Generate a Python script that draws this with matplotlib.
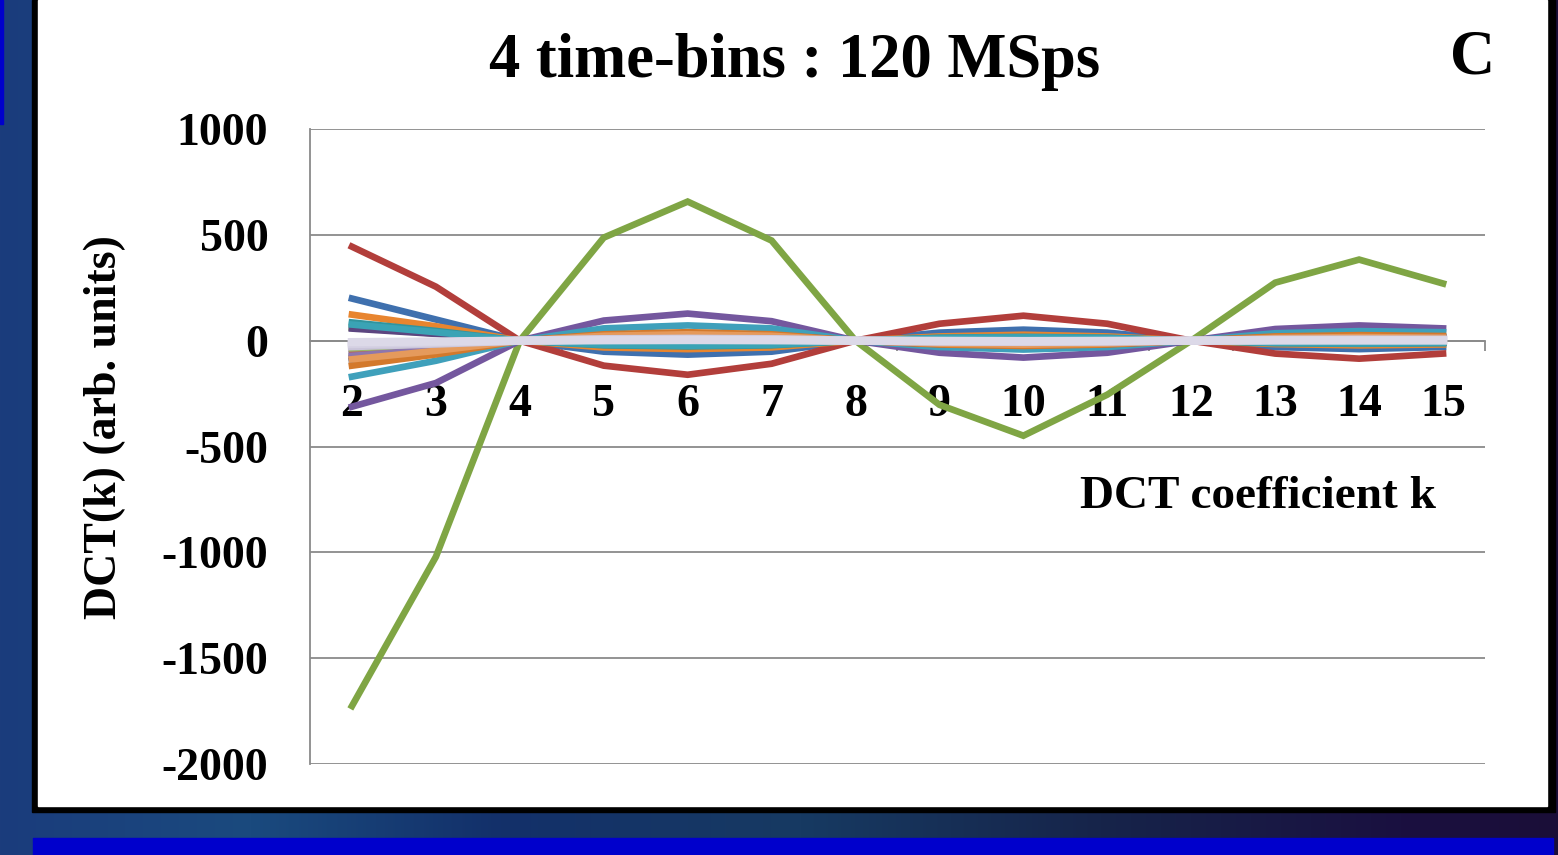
import numpy as np
import matplotlib
matplotlib.use('Agg')
import matplotlib.pyplot as plt
from matplotlib.patches import Rectangle
from matplotlib.colors import to_rgb

plt.rcParams['font.family'] = ['Liberation Serif', 'DejaVu Serif']
plt.rcParams['font.weight'] = 'bold'

# DCT coefficient index
k = [2, 3, 4, 5, 6, 7, 8, 9, 10, 11, 12, 13, 14, 15]

# series (k = 2..15)
blue     = [199, 100, 0, -52, -66, -52, 0, 38, 52, 38, 0, -30, -40, -30]
red      = [444, 255, 0, -118, -161, -109, 0, 80, 118, 80, 0, -61, -85, -61]
green    = [-1726, -1021, 0, 487, 657, 473, 0, -303, -449, -255, 0, 274, 383, 270]
purple   = [-312, -200, 0, 95, 128, 92, 0, -57, -80, -57, 0, 55, 72, 58]
teal     = [-170, -95, 0, 58, 72, 58, 0, -30, -42, -30, 0, 35, 45, 40]
orange   = [123, 68, 0, -32, -40, -32, 0, 20, 28, 20, 0, -16, -22, -18]
dkblue   = [-95, -52, 0, 26, 34, 26, 0, -16, -22, -16, 0, 15, 20, 16]
dkred    = [-80, -45, 0, 22, 28, 22, 0, -14, -18, -14, 0, 12, 16, 12]
dkgreen  = [61, 34, 0, -16, -20, -16, 0, 10, 14, 10, 0, -9, -12, -9]
dkpurple = [57, 32, 0, -15, -19, -15, 0, 10, 13, 10, 0, -8, -11, -8]
dkteal   = [86, 46, 0, -22, -27, -22, 0, 14, 18, 14, 0, -12, -15, -12]
dkorange = [-118, -65, 0, 30, 40, 30, 0, -18, -25, -18, 0, 20, 26, 22]
ltblue   = [-62, -34, 0, 16, 22, 16, 0, -10, -14, -10, 0, 9, 12, 10]
ltred    = [-48, -26, 0, 12, 16, 12, 0, -8, -10, -8, 0, 7, 9, 7]
ltgreen  = [-36, -20, 0, 9, 12, 9, 0, -6, -8, -6, 0, 5, 7, 5]
ltpurple = [-72, -40, 0, 19, 25, 19, 0, -12, -16, -12, 0, 11, 14, 12]
ltteal   = [76, 40, 0, -19, -24, -19, 0, 12, 16, 12, 0, -10, -13, -10]
ltorange = [-88, -48, 0, 23, 30, 23, 0, -14, -19, -14, 0, 13, 17, 14]
grey1    = [-26, -14, 0, 7, 9, 7, 0, -4, -6, -4, 0, 4, 5, 4]
grey2    = [-16, -9, 0, 5, 6, 5, 0, -3, -4, -3, 0, 3, 3, 3]
grey3    = [-7, -4, 0, 2, 3, 2, 0, -1, -2, -1, 0, 1, 1, 1]

series = [blue, red, green, purple, teal, orange,
          dkblue, dkred, dkgreen, dkpurple, dkteal, dkorange,
          ltblue, ltred, ltgreen, ltpurple, ltteal, ltorange,
          grey1, grey2, grey3]
colors = ['#3F70AE', '#B23E3B', '#7FA544', '#74579E', '#3FA0BB', '#E8852F',
          '#3A5E8C', '#8C3A38', '#6C8A3A', '#5C4580', '#31949E', '#D3792C',
          '#6B8FC0', '#B8605E', '#98B46A', '#8D76AD', '#3AA3B5', '#E59A5C',
          '#CAC5DA', '#D4D0E2', '#DCD9E8']
widths = [4.8] * 18 + [6, 6, 6]

W, H = 1558, 855
fig = plt.figure(figsize=(W / 100, H / 100), dpi=100)

# slide background
bg = fig.add_axes([0, 0, 1, 1], zorder=-10)
stops = [(0, '#1B3C7C'), (250, '#1A4A7E'), (500, '#13306A'), (800, '#173A62'),
         (1100, '#16244A'), (1400, '#1A1040'), (1558, '#1A0E38')]
xs = np.arange(W)
grad = np.zeros((1, W, 3))
for c in range(3):
    grad[0, :, c] = np.interp(xs, [s[0] for s in stops], [to_rgb(s[1])[c] for s in stops])
bg.imshow(grad, aspect='auto', extent=(0, W, H, 0))
bg.add_patch(Rectangle((32, 0), 1523, 812, color='black'))
bg.add_patch(Rectangle((38, 0), 1509, 806, color='white'))
bg.add_patch(Rectangle((33, 838), 1520, 17, color='#0000CC'))
bg.add_patch(Rectangle((0, 0), 3, 124, color='#0000CC'))
bg.set_xlim(0, W)
bg.set_ylim(H, 0)
bg.axis('off')

ax = fig.add_axes([310 / W, 1 - 764 / H, 1175 / W, 635 / H])
ax.set_facecolor('none')
for vals, col, lw in zip(series, colors, widths):
    ax.plot(k, vals, color=col, lw=lw, solid_joinstyle='miter', zorder=3)

ax.set_xlim(1.5, 15.5)
ax.set_ylim(-2000, 1000)
ax.set_yticks([1000, 500, 0, -500, -1000, -1500, -2000])
ax.set_yticklabels(['1000', '500', '0', '-500', '-1000', '-1500', '-2000'])
ax.yaxis.grid(True, color='#8A8A8A', lw=1.3)
ax.set_axisbelow(True)
ax.tick_params(axis='y', length=0, pad=30, labelsize=33)

ax.spines['bottom'].set_position(('data', 0))
ax.spines['bottom'].set_color('#8A8A8A')
ax.spines['bottom'].set_linewidth(1.3)
ax.spines['left'].set_color('#8A8A8A')
ax.spines['left'].set_linewidth(1.3)
ax.spines['top'].set_visible(False)
ax.spines['right'].set_visible(False)

ax.set_xticks(k)
ax.set_xticklabels([str(v) for v in k])
ax.set_xticks(np.arange(2.5, 16, 1), minor=True)
ax.tick_params(axis='x', which='major', length=0, pad=31, labelsize=33)
ax.tick_params(axis='x', which='minor', length=7, color='#8A8A8A', width=1.3, direction='out')
for lab in ax.get_xticklabels():
    lab.set_zorder(5)

fig.text(795 / W, 1 - 62 / H, '4 time-bins : 120 MSps', ha='center', va='center',
         fontsize=45, fontweight='bold')
fig.text(1473 / W, 1 - 58 / H, 'C', ha='center', va='center', fontsize=45, fontweight='bold')
fig.text(105 / W, 1 - 427 / H, 'DCT(k) (arb. units)', rotation=90, ha='center', va='center',
         fontsize=33, fontweight='bold')
fig.text(1258 / W, 1 - 497 / H, 'DCT coefficient k', ha='center', va='center',
         fontsize=34, fontweight='bold')

fig.savefig('out.png', dpi=100)
